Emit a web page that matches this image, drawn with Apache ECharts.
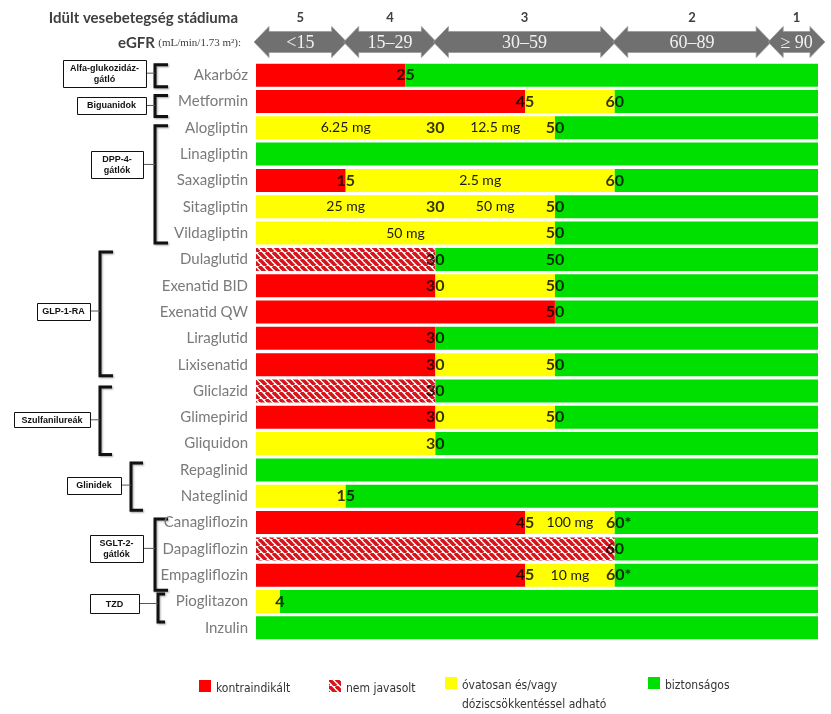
<!DOCTYPE html>
<html><head><meta charset="utf-8">
<script src="https://cdn.jsdelivr.net/npm/echarts@6/dist/echarts.min.js"></script>
<style>html,body{margin:0;padding:0;background:#fff}#c{width:831px;height:714px}</style>
</head><body><div id="c"></div>
<script>
// ---------------- data ----------------
const drugs = ['Akarbóz','Metformin','Alogliptin','Linagliptin','Saxagliptin','Sitagliptin','Vildagliptin',
  'Dulaglutid','Exenatid BID','Exenatid QW','Liraglutid','Lixisenatid','Gliclazid','Glimepirid','Gliquidon',
  'Repaglinid','Nateglinid','Canagliflozin','Dapagliflozin','Empagliflozin','Pioglitazon','Inzulin'];
// eGFR value where the zone ends (0 = zone absent)
const redEnd      = [25,45,0,0,15,0,0, 0,30,50,30,30, 0,30,0, 0,0, 45,0,45, 0,0];
const hatchEnd    = [0,0,0,0,0,0,0, 30,0,0,0,0, 30,0,0, 0,0, 0,60,0, 0,0];
const cautionSplit= [0,0,30,0,0,30,0, 0,0,0,0,0, 0,0,0, 0,0, 0,0,0, 0,0];
const cautionEnd  = [0,60,50,0,60,50,50, 0,50,0,0,50, 0,50,30, 0,15, 60,0,60, 4,0];
const doseA = ['','','6.25 mg','','2.5 mg','25 mg','50 mg', '','','','','', '','','', '','', '100 mg','','10 mg', '',''];
const doseB = ['','','12.5 mg','','','50 mg','', '','','','','', '','','', '','', '','','', '',''];
const markers = [['25'],['45','60'],['30','50'],[],['15','60'],['30','50'],['50'],
  ['30','50'],['30','50'],['50'],['30'],['30','50'],['30'],['30','50'],['30'],
  [],['15'],['45','60*'],['60'],['45','60*'],['4'],[]];
const eGFRMax = 94;
const stageNums = ['5','4','3','2','1'];
const stageLabels = ['<15','15–29','30–59','60–89','≥ 90'];
const stageEdges = [0,15,30,60,86,95];
const legendNames = ['kontraindikált','nem javasolt','óvatosan és/vagy\ndóziscsökkentéssel adható','biztonságos'];

// ---------------- styles ----------------
const RED='#ff0000', YEL='#ffff00', GRN='#00e000', HRED='#d8141b';
function hatchCanvas(){
  const s=7, c=document.createElement('canvas'); c.width=c.height=s;
  const g=c.getContext('2d'); g.fillStyle='#fff'; g.fillRect(0,0,s,s);
  g.strokeStyle=HRED; g.lineWidth=3.6;
  for(const o of [-s,0,s]){ g.beginPath(); g.moveTo(o,0); g.lineTo(o+s,s); g.stroke(); }
  return c;
}
const HATCH = {image: hatchCanvas(), repeat:'repeat'};

// ---------------- derived stacks ----------------
const redV=[], hatchV=[], yA=[], yB=[], grnV=[];
drugs.forEach((d,i)=>{
  const start=Math.max(redEnd[i],hatchEnd[i]);
  redV.push(redEnd[i]); hatchV.push(hatchEnd[i]);
  if(cautionEnd[i]>0){
    if(cautionSplit[i]>0){ yA.push(cautionSplit[i]-start); yB.push(cautionEnd[i]-cautionSplit[i]); }
    else { yA.push(cautionEnd[i]-start); yB.push(0); }
  } else { yA.push(0); yB.push(0); }
  grnV.push(eGFRMax-Math.max(start,cautionEnd[i]));
});
const markerData=[];
markers.forEach((arr,i)=>arr.forEach(t=>markerData.push({value:[parseFloat(t),i], txt:t,
  label:{offset:[t.endsWith('*')?4:0, 0]}})));

const FONT='Lato, "Open Sans", sans-serif';
const bar = (name,data,color,labels)=>({
  name, type:'bar', stack:'s', data, barWidth:23, silent:true,
  itemStyle:{color}, emphasis:{disabled:true},
  label: labels ? {show:true, position:'inside', color:'#1a1a1a', fontSize:14, fontFamily:FONT,
     formatter:p=>labels[p.dataIndex]} : {show:false}
});

const chart = echarts.init(document.getElementById('c'));
chart.setOption({
  animation:false,
  backgroundColor:'#fff',
  grid:{left:256, right:13, top:62, height:579},
  xAxis:{type:'value', min:0, max:eGFRMax, show:false},
  yAxis:{type:'category', data:drugs, inverse:true,
    axisLine:{show:false}, axisTick:{show:false}, splitLine:{show:false},
    axisLabel:{color:'#7a7a7a', fontSize:15, fontFamily:FONT, margin:8}},
  series:[
    bar('kontraindikált',redV,RED),
    bar('nem javasolt',hatchV,HATCH),
    bar('óvatosan A',yA,YEL,doseA),
    bar('óvatosan B',yB,YEL,doseB),
    bar('biztonságos',grnV,GRN),
    {type:'scatter', data:markerData, symbol:'circle', symbolSize:2, itemStyle:{color:'rgba(0,0,0,0)'}, silent:true, z:10,
      emphasis:{disabled:true},
      label:{show:true, position:'inside', fontFamily:FONT, fontWeight:'bold', fontSize:16, color:'#000',
        formatter:p=>markerData[p.dataIndex].txt}
    }
  ]
});

// ---------------- decorations ----------------
const yc = i => chart.convertToPixel({yAxisIndex:0}, i);
const xc = v => chart.convertToPixel({xAxisIndex:0}, v);
const g = [];
// header
g.push({type:'text', style:{text:'Idült vesebetegség stádiuma', x:238, y:18, align:'right', verticalAlign:'middle',
  font:'bold 15px '+FONT, fill:'#404040'}});
g.push({type:'text', style:{x:241, y:43, align:'right', verticalAlign:'middle',
  text:'{a|eGFR} {b|(mL/min/1.73 m²):}',
  rich:{a:{font:'bold 15px '+FONT, fill:'#404040'}, b:{font:'11px "Liberation Serif", serif', fill:'#404040'}}}});
const cy=42;
for(let k=0;k<5;k++){
  let xl=xc(stageEdges[k])-2, xr=xc(stageEdges[k+1])+1;
  const h=15;
  g.push({type:'polygon', shape:{points:[[xl,cy],[xl+h,cy-15.5],[xl+h,cy-10.5],[xr-h,cy-10.5],[xr-h,cy-15.5],[xr,cy],
    [xr-h,cy+15.5],[xr-h,cy+10.5],[xl+h,cy+10.5],[xl+h,cy+15.5]]},
    style:{fill:'#707070', stroke:'#9a9a9a', lineWidth:0.8}});
  g.push({type:'text', z:5, style:{text:stageLabels[k], x:(xl+xr)/2, y:cy+1, align:'center', verticalAlign:'middle',
    font:'18px "Liberation Serif", serif', fill:'#f2f2f2'}});
  g.push({type:'text', style:{text:stageNums[k], x:(xl+xr)/2, y:18, align:'center', verticalAlign:'middle',
    font:'bold 13px '+FONT, fill:'#404040'}});
}
// groups
const groups = [
 {name:'Alfa-glukozidáz-\ngátló', from:0,to:0, box:[63,146], h:27, dy:-2, bx:155, tx:168, t:-10.5, b:11.5},
 {name:'Biguanidok', from:1,to:1, box:[77,146], h:17, dy:4, bx:155, tx:168, t:-6, b:15},
 {name:'DPP-4-\ngátlók', from:2,to:6, box:[91,143], h:27, dy:-16, bx:155, tx:168, t:-2, b:10},
 {name:'GLP-1-RA', from:7,to:11, box:[37,90], h:17, dy:-1, bx:100, tx:113, t:-7.5, b:11},
 {name:'Szulfanilureák', from:12,to:14, box:[14,90], h:15, dy:2.5, bx:100, tx:112, t:-4, b:11},
 {name:'Glinidek', from:15,to:16, box:[67,121], h:17, dy:2, bx:131, tx:143, t:-7, b:14},
 {name:'SGLT-2-\ngátlók', from:17,to:19, box:[90,143], h:27, dy:-0.5, bx:155, tx:168, t:-3.5, b:15},
 {name:'TZD', from:20,to:20, box:[90,139], h:19, dy:2, bx:158, tx:165, t:-7.5, b:20.5},
];
groups.forEach(o=>{
  const top=yc(o.from)+o.t, bot=yc(o.to)+o.b;
  const mid=(yc(o.from)+yc(o.to))/2+o.dy;
  g.push({type:'polyline', shape:{points:[[o.tx,top],[o.bx,top],[o.bx,bot],[o.tx,bot]]},
    style:{stroke:'#111', lineWidth:3, fill:null, shadowColor:'rgba(0,0,0,0.35)', shadowBlur:2, shadowOffsetX:1, shadowOffsetY:1}});
  g.push({type:'line', shape:{x1:o.box[1], y1:mid, x2:o.bx, y2:mid}, style:{stroke:'#555', lineWidth:1}});
  g.push({type:'rect', shape:{x:o.box[0]+0.5, y:Math.round(mid-o.h/2)+0.5, width:o.box[1]-o.box[0], height:o.h},
    style:{fill:'#fff', stroke:'#111', lineWidth:1}});
  g.push({type:'text', style:{text:o.name, x:(o.box[0]+o.box[1])/2, y:mid+0.5, align:'center', verticalAlign:'middle',
    font:'bold 9px "Liberation Sans", Arial, sans-serif', fill:'#111', lineHeight:11}});
});
// legend
const LF='12px "Liberation Sans Narrow", "DejaVu Sans Condensed", '+FONT;
const leg=[{x:199,y:680,fill:RED},{x:329,y:680,fill:HATCH},{x:445,y:677,fill:YEL},{x:648,y:677,fill:GRN}];
leg.forEach((l,k)=>{
  g.push({type:'rect', shape:{x:l.x,y:l.y,width:12,height:12}, style:{fill:l.fill}});
  g.push({type:'text', style:{text:legendNames[k], x:l.x+17, y:l.y-1, align:'left', verticalAlign:'top',
    font:LF, fill:'#333', lineHeight:19}});
});
chart.setOption({graphic:g});
</script></body></html>
